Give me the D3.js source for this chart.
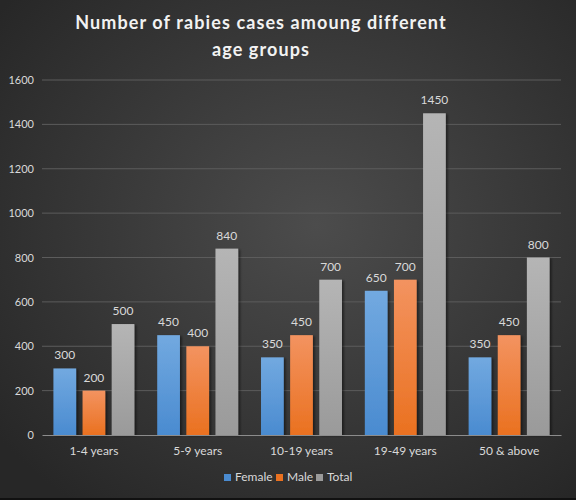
<!DOCTYPE html>
<html lang="en">
<head>
  <meta charset="UTF-8">
  <title>Rabies cases by age group</title>
  <script src="https://d3js.org/d3.v7.min.js"></script>
  <style>
    body, html { margin: 0; padding: 0; background: #111; overflow: hidden; }
    svg { display: block; }
    text { font-family: Lato, "Open Sans", sans-serif; }
  </style>
</head>
<body>
  <div id="chart"></div>
  <script>
    // Data
    const categories = ['1-4 years', '5-9 years', '10-19 years', '19-49 years', '50 & above'];
    const seriesNames = ['Female', 'Male', 'Total'];
    const female = [300, 450, 350, 650, 350];
    const male = [200, 400, 450, 700, 450];
    const total = [500, 840, 700, 1450, 800];
    const yTicks = [0, 200, 400, 600, 800, 1000, 1200, 1400, 1600];

    const seriesValues = [female, male, total];
    const colors = {
      Female: ['#72a9e0', '#4a8bd0'],
      Male:   ['#f39360', '#ea7120'],
      Total:  ['#b5b5b5', '#9a9a9a']
    };

    const W = 576, H = 500;
    const margin = { top: 80, right: 15, bottom: 65, left: 42 };
    const plotW = W - margin.left - margin.right;
    const plotH = H - margin.top - margin.bottom;

    const svg = d3.select('#chart').append('svg')
      .attr('width', W)
      .attr('height', H);

    const defs = svg.append('defs');

    // Background radial gradient
    const bg = defs.append('radialGradient')
      .attr('id', 'bg')
      .attr('cx', '55%').attr('cy', '45%').attr('r', '70%');
    bg.append('stop').attr('offset', '0%').attr('stop-color', '#4c4c4c');
    bg.append('stop').attr('offset', '100%').attr('stop-color', '#272727');

    seriesNames.forEach(name => {
      const g = defs.append('linearGradient')
        .attr('id', 'grad-' + name)
        .attr('x1', 0).attr('y1', 0).attr('x2', 0).attr('y2', 1);
      g.append('stop').attr('offset', '0%').attr('stop-color', colors[name][0]);
      g.append('stop').attr('offset', '100%').attr('stop-color', colors[name][1]);
    });

    const shadow = defs.append('filter').attr('id', 'shadow')
      .attr('x', '-20%').attr('y', '-5%').attr('width', '150%').attr('height', '115%');
    shadow.append('feDropShadow')
      .attr('dx', 2).attr('dy', 1).attr('stdDeviation', 1.2)
      .attr('flood-color', '#000').attr('flood-opacity', 0.45);

    svg.append('rect')
      .attr('width', W).attr('height', H - 2)
      .attr('fill', 'url(#bg)');

    // Title
    const tx = 261;
    const title = svg.append('text')
      .attr('text-anchor', 'middle')
      .attr('fill', '#f2f2f2')
      .attr('font-size', 18)
      .attr('font-weight', 'bold')
      .attr('letter-spacing', 1.1);
    title.append('tspan').attr('x', tx).attr('y', 29).text('Number of rabies cases amoung different');
    title.append('tspan').attr('x', tx).attr('y', 56).text('age groups');

    const g = svg.append('g').attr('transform', `translate(${margin.left},${margin.top})`);

    const x0 = d3.scaleBand().domain(categories).range([0, plotW]).paddingInner(0.22).paddingOuter(0.11);
    const x1 = d3.scaleBand().domain(seriesNames).range([0, x0.bandwidth()]).paddingInner(0.22);
    const y = d3.scaleLinear().domain([0, 1600]).range([plotH, 0]);

    // Gridlines
    g.append('g')
      .selectAll('line')
      .data(yTicks.filter(d => d > 0))
      .join('line')
      .attr('x1', 0).attr('x2', plotW)
      .attr('y1', d => y(d)).attr('y2', d => y(d))
      .attr('stroke', '#5c5c5c').attr('stroke-width', 1);

    // Y axis labels
    const yAxis = g.append('g')
      .call(d3.axisLeft(y).tickValues(yTicks).tickFormat(d3.format('d')).tickSize(0).tickPadding(8));
    yAxis.select('.domain').remove();
    yAxis.selectAll('text')
      .attr('fill', '#d9d9d9')
      .attr('font-size', 11)
      .attr('font-family', 'Lato, sans-serif');

    // Bars
    const groups = g.append('g')
      .selectAll('g')
      .data(categories)
      .join('g')
      .attr('transform', d => `translate(${x0(d)},0)`);

    groups.selectAll('rect')
      .data((c, i) => seriesNames.map((s, k) => ({ s, v: seriesValues[k][i] })))
      .join('rect')
      .attr('x', d => x1(d.s))
      .attr('y', d => y(d.v))
      .attr('width', x1.bandwidth())
      .attr('height', d => plotH - y(d.v))
      .attr('fill', d => `url(#grad-${d.s})`)
      .attr('filter', 'url(#shadow)');

    groups.selectAll('text.val')
      .data((c, i) => seriesNames.map((s, k) => ({ s, v: seriesValues[k][i] })))
      .join('text')
      .attr('class', 'val')
      .attr('x', d => x1(d.s) + x1.bandwidth() / 2)
      .attr('y', d => y(d.v) - 9)
      .attr('text-anchor', 'middle')
      .attr('fill', '#d9d9d9')
      .attr('font-size', 12)
      .text(d => d.v);

    // X axis
    const xAxis = g.append('g')
      .attr('transform', `translate(0,${plotH})`)
      .call(d3.axisBottom(x0).tickSize(0).tickPadding(11));
    xAxis.select('.domain').attr('stroke', '#8c8c8c').attr('stroke-width', 1.2);
    xAxis.selectAll('text')
      .attr('fill', '#d9d9d9')
      .attr('font-size', 12)
      .attr('font-family', 'Lato, sans-serif');

    // Legend
    const legend = svg.append('g').attr('transform', 'translate(224,474)');
    const legendX = [0, 52, 92];
    seriesNames.forEach((name, i) => {
      const item = legend.append('g').attr('transform', `translate(${legendX[i]},0)`);
      item.append('rect')
        .attr('width', 7).attr('height', 7)
        .attr('fill', colors[name][1]);
      item.append('text')
        .attr('x', 11).attr('y', 7)
        .attr('fill', '#d9d9d9')
        .attr('font-size', 12)
        .text(name);
    });
  </script>
</body>
</html>
